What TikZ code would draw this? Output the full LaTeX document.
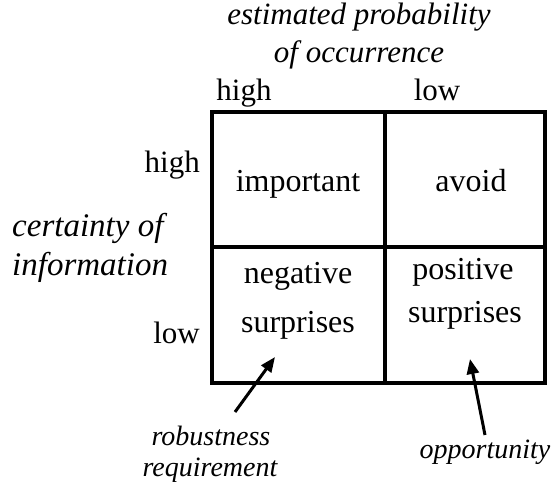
\documentclass[tikz,border=0pt]{standalone}
\usepackage{fontspec}
\setmainfont{Liberation Serif}
\usetikzlibrary{arrows.meta}
\begin{document}
\begin{tikzpicture}[x=1pt,y=-1pt,
  grid/.style={line width=4pt},
  celltext/.style={anchor=base,inner sep=0pt,font=\fontsize{32}{32}\selectfont},
  axislabel/.style={anchor=base,inner sep=0pt,font=\fontsize{31}{31}\selectfont},
  axistitle/.style={anchor=base,inner sep=0pt,font=\fontsize{31}{31}\selectfont\itshape},
  sidetitle/.style={anchor=base west,inner sep=0pt,font=\fontsize{33}{33}\selectfont\itshape},
  note/.style={anchor=base,inner sep=0pt,font=\fontsize{28}{28}\selectfont\itshape},
  pointer/.style={line width=3pt,-{Triangle[length=15pt,width=12pt]}}]
\useasboundingbox (0,0) rectangle (559,492);
% grid
\coordinate (tl) at (212,112);
\coordinate (br) at (545,383);
\coordinate (mt) at (385,112);
\coordinate (mb) at (385,383);
\coordinate (ml) at (212,247);
\coordinate (mr) at (545,247);
\draw[grid] (tl) rectangle (br);
\draw[grid] (mt) -- (mb);
\draw[grid] (ml) -- (mr);
% top titles
\node[axistitle] (t1) at (359,25) {estimated probability};
\node[axistitle] (t2) at (359,63) {of occurrence};
\node[axislabel] (hx) at (244,101) {high};
\node[axislabel] (lx) at (437,101) {low};
% left titles
\node[sidetitle] (s1) at (12,236) {certainty of};
\node[sidetitle] (s2) at (12,275) {information};
\node[axislabel,anchor=base east] (hy) at (200,172) {high};
\node[axislabel,anchor=base east] (ly) at (200,343) {low};
% cells
\node[celltext] (c1) at (298,191) {important};
\node[celltext] (c2) at (471,191) {avoid};
\node[celltext] (c3a) at (298,283) {negative};
\node[celltext] (c3b) at (298,332) {surprises};
\node[celltext] (c4a) at (463,279) {positive};
\node[celltext] (c4b) at (465,322) {surprises};
% notes
\node[note] (n1a) at (211,445) {robustness};
\node[note] (n1b) at (210,476) {requirement};
\node[note] (n2) at (485,458) {opportunity};
\coordinate (a1s) at (235,412);
\coordinate (a1e) at (275,357);
\coordinate (a2s) at (485,435);
\coordinate (a2e) at (470,359);
\draw[pointer] (a1s) -- (a1e);
\draw[pointer] (a2s) -- (a2e);
\end{tikzpicture}
\end{document}
